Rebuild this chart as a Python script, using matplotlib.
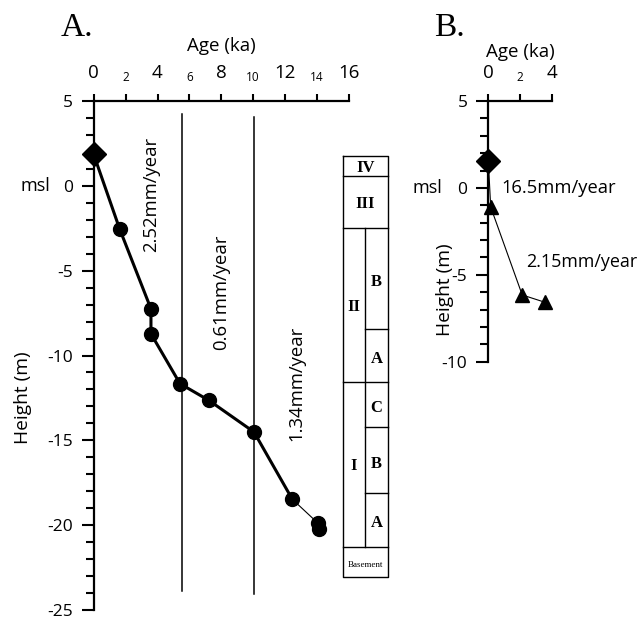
import matplotlib
matplotlib.use("Agg")
import matplotlib.pyplot as plt
from matplotlib.ticker import MultipleLocator

plt.rcParams['font.family'] = ['Open Sans', 'DejaVu Sans']
plt.rcParams['axes.unicode_minus'] = False

# ---------------- data ----------------
# Panel A
a_diamond_age = [0.0]
a_diamond_height = [1.85]
a_age = [1.63, 3.59, 3.59, 5.41, 7.23, 10.05, 12.45, 14.08, 14.14]
a_height = [-2.55, -7.25, -8.72, -11.66, -12.65, -14.51, -18.47, -19.90, -20.24]
a_boundary_ages = [5.55, 10.05]
a_rate_labels = ["2.52mm/year", "0.61mm/year", "1.34mm/year"]

# Stratigraphic column (heights in m, panel A scale)
col_bounds = [1.76, 0.59, -2.49, -8.43, -11.56, -14.21, -18.13, -21.27, -23.04]
full_units = ["IV", "III"]
left_units = ["II", "I"]
right_units = ["B", "A", "C", "B", "A"]
basement_label = "Basement"

# Panel B
b_diamond_age = [0.0]
b_diamond_height = [1.57]
b_age = [0.15, 2.12, 3.57]
b_height = [-1.10, -6.16, -6.59]
b_rate_labels = ["16.5mm/year", "2.15mm/year"]

x_major_a = [0, 4, 8, 12, 16]
x_minor_a = [2, 6, 10, 14]
x_major_b = [0, 4]
x_minor_b = [2]

# ---------------- figure ----------------
W, H = 642, 619
fig = plt.figure(figsize=(W / 100, H / 100), dpi=100)


def px_axes(x0, x1, y_top, y_bot):
    return fig.add_axes([x0 / W, 1 - y_bot / H, (x1 - x0) / W, (y_bot - y_top) / H])


def style_axes(ax, xmaj, xmin, ylim):
    ax.set_facecolor('none')
    for s in ['bottom', 'right']:
        ax.spines[s].set_visible(False)
    for s in ['left', 'top']:
        ax.spines[s].set_linewidth(1.6)
    ax.xaxis.set_ticks_position('top')
    ax.xaxis.set_label_position('top')
    ax.set_xticks(xmaj, labels=[str(v) for v in xmaj])
    ax.set_xticks(xmin, labels=[str(v) for v in xmin], minor=True)
    ax.yaxis.set_major_locator(MultipleLocator(5))
    ax.yaxis.set_minor_locator(MultipleLocator(1))
    ax.set_ylim(*ylim)
    ax.tick_params(axis='x', which='major', direction='out', length=5, width=1.5,
                   pad=9, labelsize=13.5)
    ax.tick_params(axis='x', which='minor', direction='out', length=5, width=1.5,
                   pad=7.5, labelsize=8.5)
    ax.tick_params(axis='y', which='major', direction='out', length=8.5, width=1.5,
                   pad=6.5, labelsize=12.5)
    ax.tick_params(axis='y', which='minor', direction='out', length=6, width=1.5)


# ---- Panel A ----
axA = px_axes(93.7, 348.9, 101.0, 610.0)
axA.set_xlim(0, 16)
style_axes(axA, x_major_a, x_minor_a, (-25, 5))

for xb, (yt, yb) in zip(a_boundary_ages, [(4.22, -23.9), (4.04, -24.08)]):
    axA.plot([xb, xb], [yt, yb], color='black', lw=1.1, clip_on=False)

line_age = a_diamond_age + a_age
line_h = a_diamond_height + a_height
axA.plot(line_age[:8], line_h[:8], color='black', lw=2.2, clip_on=False, zorder=3)
axA.plot(line_age[7:], line_h[7:], color='black', lw=0.8, clip_on=False, zorder=3)
axA.plot(a_age, a_height, 'o', color='black', ms=10, clip_on=False, zorder=4)
axA.plot(a_diamond_age, a_diamond_height, 'D', color='black', ms=12, clip_on=False, zorder=5)

for lab, (tx, ty) in zip(a_rate_labels, [(3.62, -0.49), (7.98, -6.28), (12.68, -11.66)]):
    axA.text(tx, ty, lab, rotation=90, ha='center', va='center', fontsize=13.3)

axA.set_xlabel("Age (ka)", fontsize=13.5, labelpad=9)
axA.annotate("msl", xy=(0, 0), xycoords=('axes fraction', 'data'),
             xytext=(-31.5, 0), textcoords='offset points',
             ha='right', va='center', fontsize=13)
fig.text(23 / W, 1 - 398 / H, "Height (m)", rotation=90, ha='center', va='center', fontsize=13.8)
fig.text(61 / W, 1 - 28 / H, "A.", family=['Liberation Serif'], fontsize=24,
         ha='left', va='center')

# Stratigraphic column
xl, xm, xr = 15.61, 17.01, 18.47
kw = dict(color='black', lw=1.0, clip_on=False)
top, bot = col_bounds[0], col_bounds[-1]
axA.plot([xl, xr, xr, xl, xl], [top, top, bot, bot, top], **kw)
for yb in [col_bounds[1], col_bounds[2], col_bounds[7]]:
    axA.plot([xl, xr], [yb, yb], **kw)
for yb in [col_bounds[3], col_bounds[5], col_bounds[6]]:
    axA.plot([xm, xr], [yb, yb], **kw)
axA.plot([xl, xr], [col_bounds[4], col_bounds[4]], **kw)
axA.plot([xm, xm], [col_bounds[2], col_bounds[7]], **kw)

serif_bold = dict(family=['Liberation Serif'], fontweight='bold', fontsize=12,
                  ha='center', va='center', clip_on=False)
for i, lab in enumerate(full_units):
    axA.text((xl + xr) / 2, (col_bounds[i] + col_bounds[i + 1]) / 2 - 0.1, lab, **serif_bold)
axA.text((xl + xm) / 2, (col_bounds[2] + col_bounds[4]) / 2 - 0.1, left_units[0], **serif_bold)
axA.text((xl + xm) / 2, (col_bounds[4] + col_bounds[7]) / 2 - 0.1, left_units[1], **serif_bold)
for i, lab in enumerate(right_units):
    axA.text((xm + xr) / 2, (col_bounds[i + 2] + col_bounds[i + 3]) / 2 - 0.2, lab, **serif_bold)
axA.text((xl + xr) / 2, (col_bounds[7] + col_bounds[8]) / 2 - 0.2, basement_label,
         family=['Liberation Serif'], fontsize=6.5, ha='center', va='center', clip_on=False)

# ---- Panel B ----
axB = px_axes(488.3, 552.3, 101.0, 361.7)
axB.set_xlim(0, 4)
style_axes(axB, x_major_b, x_minor_b, (-10, 5))

axB.plot(b_diamond_age + b_age, b_diamond_height + b_height, color='black', lw=0.8,
         clip_on=False, zorder=3)
axB.plot(b_age, b_height, '^', color='black', ms=9.5, clip_on=False, zorder=4)
axB.plot(b_diamond_age, b_diamond_height, 'D', color='black', ms=12, clip_on=False, zorder=5)

axB.text(0.84, 0.0, b_rate_labels[0], ha='left', va='center', fontsize=13.2)
axB.text(2.36, -4.25, b_rate_labels[1], ha='left', va='center', fontsize=12.9)

axB.set_xlabel("Age (ka)", fontsize=13.5, labelpad=5)
axB.annotate("msl", xy=(0, 0), xycoords=('axes fraction', 'data'),
             xytext=(-33.5, 0), textcoords='offset points',
             ha='right', va='center', fontsize=13)
fig.text(445 / W, 1 - 290 / H, "Height (m)", rotation=90, ha='center', va='center', fontsize=13.8)
fig.text(434 / W, 1 - 28 / H, "B.", family=['Liberation Serif'], fontsize=24,
         ha='left', va='center')

fig.savefig("out.png", dpi=100)
